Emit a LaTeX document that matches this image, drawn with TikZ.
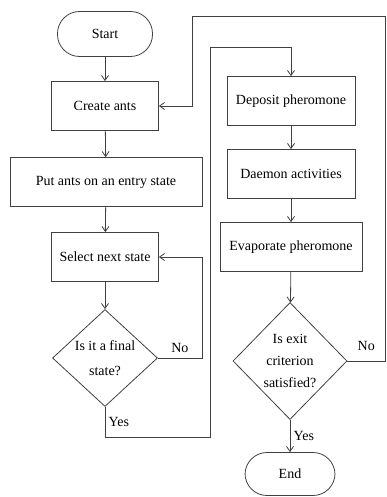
\documentclass[tikz,border=0pt]{standalone}
\usepackage{fontspec}
\setmainfont{Liberation Serif}
\usetikzlibrary{shapes.geometric,arrows.meta}
\begin{document}
\begin{tikzpicture}[x=1pt, y=-1pt, font=\fontsize{14}{17}\selectfont,
  line/.style={draw=black!75, line width=0.8pt},
  arr/.style={line, -{Straight Barb[length=5pt,width=7pt]}},
  proc/.style={line, rectangle, minimum height=49pt, inner sep=2pt},
  term/.style={line, rectangle, rounded corners=22pt, minimum height=45pt},
  decide/.style={line, diamond, inner sep=0pt, align=center}]
\useasboundingbox (0,0) rectangle (386,497);
% left column
\node[term, minimum width=95pt] (start) at (105,34){Start};
\node[proc, minimum width=107pt] (create) at (105,106){Create ants};
\node[proc, minimum width=192pt] (put) at (106,182){Put ants on an entry state};
\node[proc, minimum width=107pt] (select) at (105,257){Select next state};
\node[decide, minimum width=105pt, minimum height=97pt] (final) at (105,358){Is it a final\\[8pt]state?};
% right column
\node[proc, minimum width=128pt] (deposit) at (291,101){Deposit pheromone};
\node[proc, minimum width=128pt] (daemon) at (291,174){Daemon activities};
\node[proc, minimum width=142pt] (evap) at (291,247){Evaporate pheromone};
\node[decide, minimum width=114pt, minimum height=117pt,
  font=\fontsize{14}{22}\selectfont] (exit) at (290,361){Is exit\\criterion\\satisfied?};
\node[term, minimum width=90pt, minimum height=43pt] (end) at (290,474){End};
\coordinate (yesturn) at (210,47);
\coordinate (noturn) at (385,16);
% connectors
\draw[arr] (start) -- (create);
\draw[arr] (create) -- (put);
\draw[arr] (put) -- (select);
\draw[arr] (select) -- (final);
\draw[arr] (final.east) -- node[above=2pt]{No} ++(44,0) |- (select.east);
\draw[arr] (final.south) -- node[right]{Yes} ++(0,30) -| (yesturn) -| (deposit.north);
\draw[arr] (deposit) -- (daemon);
\draw[arr] (daemon) -- (evap);
\draw[arr] (evap) -- (exit);
\draw[arr] (exit) -- node[right]{Yes} (end);
\draw[arr] (exit.east) -- node[above=7pt]{No} (noturn |- exit.east) -- (noturn) -| ++(-193,0) |- (create.east);
\end{tikzpicture}
\end{document}
